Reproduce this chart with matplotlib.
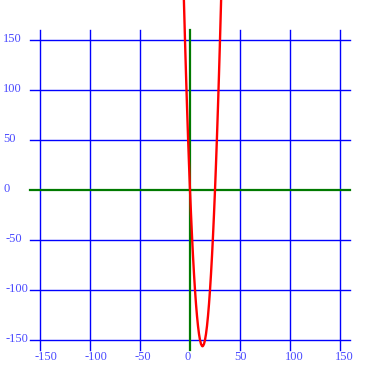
import matplotlib.pyplot as plt

# tick values shared by both axes
ticks = [-150, -100, -50, 0, 50, 100, 150]
grid_lo, grid_hi = -160, 160

# parabola samples
curve_x = [-7, -6, -5, -4, -3, -2, -1, 0, 1, 2, 3, 4, 5, 6, 7, 8, 9, 10, 11, 12,
           12.5, 13, 14, 15, 16, 17, 18, 19, 20, 21, 22, 23, 24, 25, 26, 27, 28,
           29, 30, 31, 32]
curve_y = [224, 186, 150, 116, 84, 54, 26, 0, -24, -46, -66, -84, -100, -114,
           -126, -136, -144, -150, -154, -156, -156.25, -156, -154, -150, -144,
           -136, -126, -114, -100, -84, -66, -46, -24, 0, 26, 54, 84, 116, 150,
           186, 224]

BLUE = "#0000ff"
GREEN = "#007a00"
RED = "#ff0000"
LABEL = "#4a4aff"

fig = plt.figure(figsize=(3.8, 3.8), dpi=100)
ax = fig.add_axes([0, 0, 1, 1])
ax.set_xlim(-190, 190)
ax.set_ylim(-190, 190)
ax.axis("off")

for t in ticks:
    if t == 0:
        continue
    ax.plot([t, t], [grid_lo, grid_hi], color=BLUE, lw=1.0)
    ax.plot([grid_lo, grid_hi], [t, t], color=BLUE, lw=1.0)

ax.plot([grid_lo, grid_hi], [0, 0], color=GREEN, lw=1.6)
ax.plot([0, 0], [grid_lo, grid_hi], color=GREEN, lw=1.6)

ax.plot(curve_x, curve_y, color=RED, lw=1.7)

for t in ticks:
    ax.text(t - 5.5, -167, str(t), ha="left", va="center", color=LABEL,
            family="Liberation Serif", fontsize=9)
    ax.text(-187 if t >= 0 else -184, t + 1, str(t), ha="left", va="center",
            color=LABEL, family="Liberation Serif", fontsize=9)

fig.savefig("out.png", dpi=100)
